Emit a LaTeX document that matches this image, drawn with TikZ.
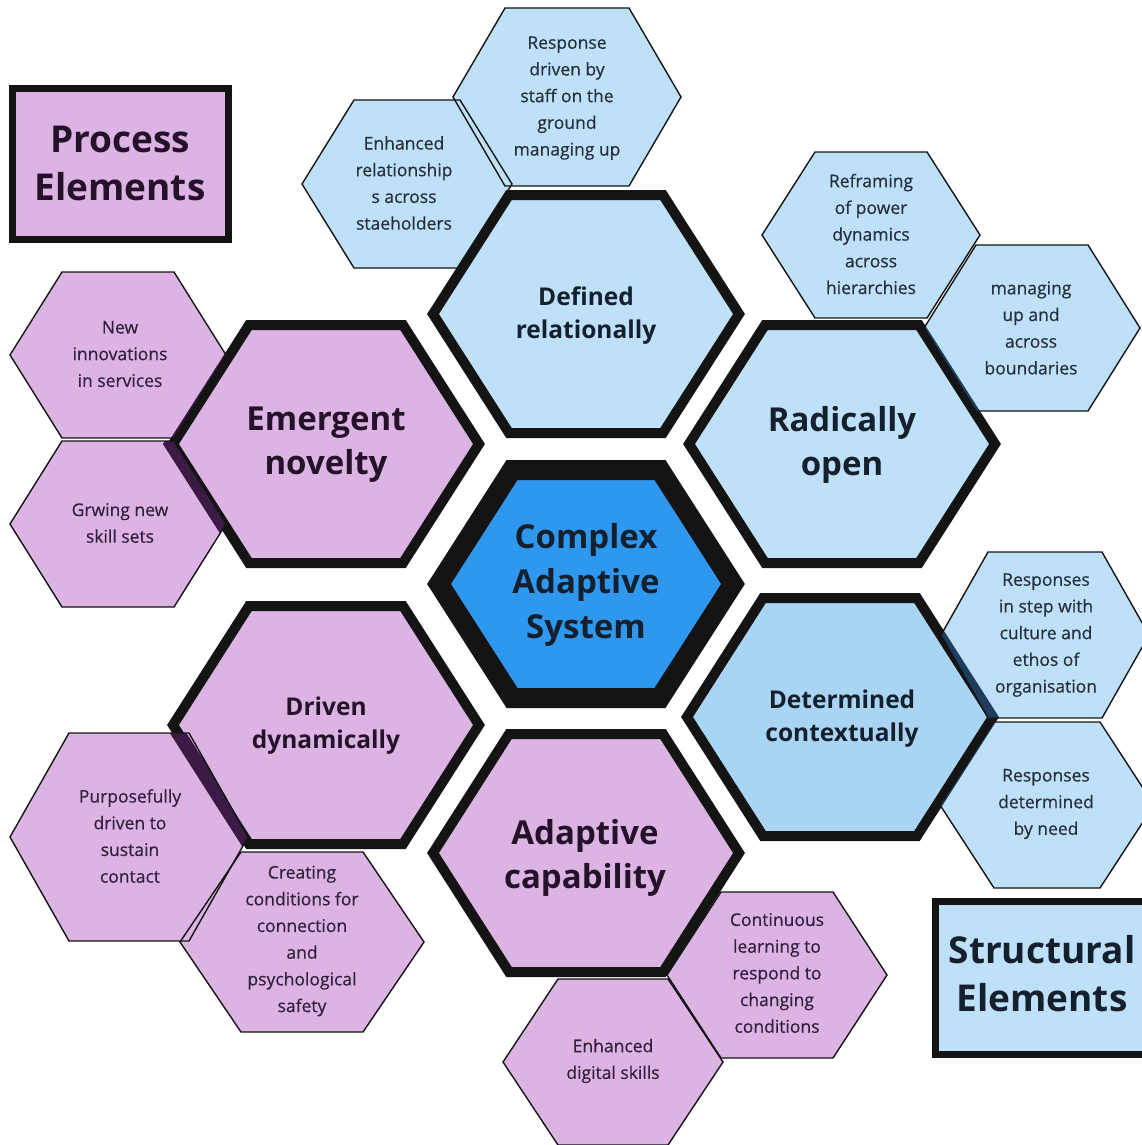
\documentclass[tikz,border=0pt]{standalone}
\usepackage{fontspec}
\setmainfont{Open Sans}
\newfontfamily\medfont{Open Sans}[FakeBold=0.5]
\definecolor{lilac}{HTML}{DCB4E4}
\definecolor{lblue}{HTML}{BEE0F8}
\definecolor{mblue}{HTML}{A9D4F4}
\definecolor{cblue}{HTML}{2E97EE}
\definecolor{pband}{HTML}{3C1A46}
\definecolor{bband}{HTML}{1E3E5E}
\definecolor{ink}{HTML}{141414}
\definecolor{btext}{HTML}{15202E}
\definecolor{ptext}{HTML}{25122A}
\definecolor{bsmall}{HTML}{26303C}
\definecolor{psmall}{HTML}{33203A}
\newcommand\hexP[5]{({#1-#3},{#2}) -- ({#1-#5},{#2-#4}) -- ({#1+#5},{#2-#4}) -- ({#1+#3},{#2}) -- ({#1+#5},{#2+#4}) -- ({#1-#5},{#2+#4}) -- cycle}
\newcommand\bigH[2]{\hexP{#1}{#2}{153}{119}{77}}
\begin{document}
\begin{tikzpicture}[x=1pt,y=-1pt,
  bigstroke/.style={draw=ink, line width=10pt, line join=miter},
  smallstroke/.style={draw=ink, line width=1.4pt, line join=miter},
  bigtxt/.style={align=center, font=\fontsize{33}{44}\selectfont\bfseries},
  midtxt/.style={align=center, font=\fontsize{24.5}{33}\selectfont\bfseries},
  smalltxt/.style={align=center, font=\medfont\fontsize{17.5}{26.7}\selectfont},
  labeltxt/.style={align=center, font=\fontsize{37}{48}\selectfont\bfseries},
  pbandline/.style={draw=pband, line width=10pt},
  bbandline/.style={draw=bband, line width=10pt}]
\useasboundingbox (0,0) rectangle (1142,1145);
\clip (0,0) rectangle (1142,1145);
\fill[white] (0,0) rectangle (1142,1145);

% ---- big hexagons ----
\filldraw[fill=lblue, bigstroke] \bigH{586}{314};
\filldraw[fill=lblue, bigstroke] \bigH{842}{444};
\filldraw[fill=mblue, bigstroke] \bigH{840}{717};
\filldraw[fill=lilac, bigstroke] \bigH{326}{444};
\filldraw[fill=lilac, bigstroke] \bigH{326}{725};
\filldraw[fill=lilac, bigstroke] \bigH{586}{853};
\filldraw[fill=cblue, draw=ink, line width=20pt, line join=miter] \hexP{586}{584}{147}{114}{74};

% ---- small hexagons ----
\fill[lblue] \hexP{407}{184}{105}{84}{53};
\fill[lblue] \hexP{567}{97}{114}{89}{62};
\fill[lblue] \hexP{871}{235}{109}{83}{56};
\fill[lblue] \hexP{1032}{328}{108}{83}{56};
\fill[lblue] \hexP{1045}{635}{104}{83}{57};
\fill[lblue] \hexP{1047}{805}{107}{83}{53};
\fill[lilac] \hexP{118}{355}{108}{83}{56};
\fill[lilac] \hexP{118}{524}{108}{83}{56};
\fill[lilac] \hexP{129}{837}{119}{104}{60};
\fill[lilac] \hexP{302}{942}{122}{90}{61};
\fill[lilac] \hexP{777}{975}{110}{83}{56};
\fill[lilac] \hexP{613}{1062}{110}{83}{55};

% ---- dark bands where small hexagons cover big outlines ----
\begin{scope}\clip \hexP{407}{184}{105}{84}{53}; \draw[draw=ink, line width=10pt] \bigH{586}{314}; \end{scope}
\begin{scope}\clip \hexP{567}{97}{114}{89}{62}; \draw[bbandline] \bigH{586}{314}; \end{scope}
\begin{scope}\clip \hexP{871}{235}{109}{83}{56}; \draw[bbandline] \bigH{842}{444}; \end{scope}
\begin{scope}\clip \hexP{1032}{328}{108}{83}{56}; \draw[bbandline] \bigH{842}{444}; \end{scope}
\begin{scope}\clip \hexP{1045}{635}{104}{83}{57}; \draw[bbandline] \bigH{840}{717}; \end{scope}
\begin{scope}\clip \hexP{1047}{805}{107}{83}{53}; \draw[bbandline] \bigH{840}{717}; \end{scope}
\begin{scope}\clip \hexP{118}{355}{108}{83}{56}; \draw[pbandline] \bigH{326}{444}; \end{scope}
\begin{scope}\clip \hexP{118}{524}{108}{83}{56}; \draw[pbandline, line width=17pt] \bigH{326}{444}; \end{scope}
\begin{scope}\clip \hexP{129}{837}{119}{104}{60}; \draw[pbandline, line width=14pt] \bigH{326}{725}; \end{scope}
\begin{scope}\clip \hexP{302}{942}{122}{90}{61}; \draw[pbandline] \bigH{326}{725}; \end{scope}
\begin{scope}\clip \hexP{777}{975}{110}{83}{56}; \draw[pbandline] \bigH{586}{853}; \end{scope}
\begin{scope}\clip \hexP{613}{1062}{110}{83}{55}; \draw[pbandline] \bigH{586}{853}; \end{scope}

% ---- small outlines ----
\draw[smallstroke] \hexP{407}{184}{105}{84}{53};
\draw[smallstroke] \hexP{567}{97}{114}{89}{62};
\draw[smallstroke] \hexP{871}{235}{109}{83}{56};
\draw[smallstroke] \hexP{1032}{328}{108}{83}{56};
\draw[smallstroke] \hexP{1045}{635}{104}{83}{57};
\draw[smallstroke] \hexP{1047}{805}{107}{83}{53};
\draw[smallstroke] \hexP{118}{355}{108}{83}{56};
\draw[smallstroke] \hexP{118}{524}{108}{83}{56};
\draw[smallstroke] \hexP{129}{837}{119}{104}{60};
\draw[smallstroke] \hexP{302}{942}{122}{90}{61};
\draw[smallstroke] \hexP{777}{975}{110}{83}{56};
\draw[smallstroke] \hexP{613}{1062}{110}{83}{55};

% ---- label boxes ----
\filldraw[fill=lilac, draw=ink, line width=7pt] (12.5,88.5) rectangle (228.5,239.5);
\filldraw[fill=lblue, draw=ink, line width=7pt] (935.5,901.5) rectangle (1160,1054.5);

% ---- texts ----
\node[labeltxt, text=ptext] (proc) at (120,163) {Process\\Elements};
\node[labeltxt, text=btext] (struc) at (1042,974) {Structural\\Elements};

\node[bigtxt, text=btext, font=\fontsize{33}{45}\selectfont\bfseries] (cas) at (586,585) {Complex\\Adaptive\\System};
\node[midtxt, text=btext] (defrel) at (586,316) {Defined\\relationally};
\node[bigtxt, text=btext] (radopen) at (842,445) {Radically\\open};
\node[midtxt, text=btext] (detctx) at (842,719) {Determined\\contextually};
\node[bigtxt, text=ptext] (emnov) at (326,445) {Emergent\\novelty};
\node[midtxt, text=ptext] (drvdyn) at (326,726) {Driven\\dynamically};
\node[bigtxt, text=ptext] (adcap) at (585,858) {Adaptive\\capability};

\node[smalltxt, text=bsmall] (s1) at (567,98) {Response\\driven by\\staff on the\\ground\\managing up};
\node[smalltxt, text=bsmall] (s2) at (404,183) {Enhanced\\relationship\\s across\\staeholders};
\node[smalltxt, text=bsmall] (s3) at (871,234) {Reframing\\of power\\dynamics\\across\\hierarchies};
\node[smalltxt, text=bsmall] (s4) at (1031,328) {managing\\up and\\across\\boundaries};
\node[smalltxt, text=bsmall] (s5) at (1046,635) {Responses\\in step with\\culture and\\ethos of\\organisation};
\node[smalltxt, text=bsmall] (s6) at (1046,804) {Responses\\determined\\by need};
\node[smalltxt, text=psmall] (s7) at (120,354) {New\\innovations\\in services};
\node[smalltxt, text=psmall] (s8) at (120,523) {Grwing new\\skill sets};
\node[smalltxt, text=psmall] (s9) at (130,836) {Purposefully\\driven to\\sustain\\contact};
\node[smalltxt, text=psmall] (s10) at (302,941) {Creating\\conditions for\\connection\\and\\psychological\\safety};
\node[smalltxt, text=psmall] (s11) at (777,973) {Continuous\\learning to\\respond to\\changing\\conditions};
\node[smalltxt, text=psmall] (s12) at (613,1061) {Enhanced\\digital skills};
\end{tikzpicture}
\end{document}
